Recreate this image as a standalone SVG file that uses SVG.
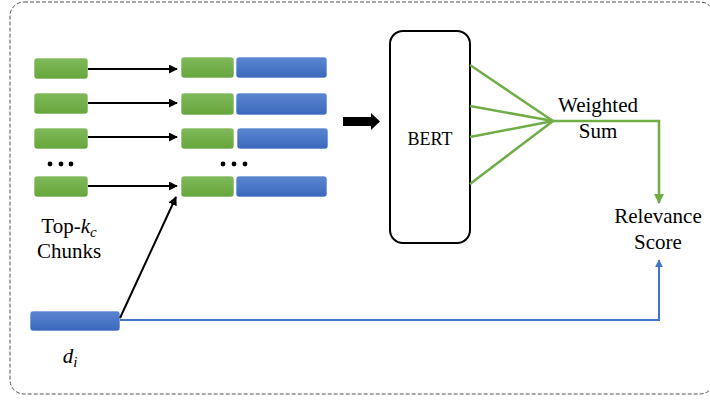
<svg xmlns="http://www.w3.org/2000/svg" width="710" height="401" viewBox="0 0 710 401">
<defs>
<linearGradient id="gg" x1="0" y1="0" x2="0" y2="1"><stop offset="0" stop-color="#80b95b"/><stop offset="1" stop-color="#66a63b"/></linearGradient>
<linearGradient id="bg" x1="0" y1="0" x2="0" y2="1"><stop offset="0" stop-color="#5a86d0"/><stop offset="1" stop-color="#3c68bd"/></linearGradient>
<marker id="ak" viewBox="0 0 10 10" refX="9" refY="5" markerWidth="4.5" markerHeight="4.5" orient="auto" markerUnits="strokeWidth"><path d="M0,0 L10,5 L0,10 z" fill="#000"/></marker>
<marker id="ag" viewBox="0 0 10 10" refX="9" refY="5" markerWidth="4" markerHeight="4" orient="auto" markerUnits="strokeWidth"><path d="M0,0 L10,5 L0,10 z" fill="#70ad47"/></marker>
<marker id="ab" viewBox="0 0 10 10" refX="9" refY="5" markerWidth="4" markerHeight="4" orient="auto" markerUnits="strokeWidth"><path d="M0,0 L10,5 L0,10 z" fill="#4472c4"/></marker>
</defs>
<style>
.g{fill:url(#gg);stroke:#ffffff;stroke-width:0.6}
.b{fill:url(#bg);stroke:#ffffff;stroke-width:0.6}
.t{font-family:"Liberation Serif","Times New Roman",serif;fill:#000;text-anchor:middle}
.ka{stroke:#000;stroke-width:2;fill:none;marker-end:url(#ak)}
.gl{stroke:#70ad47;stroke-width:2.5;fill:none}
.bl{stroke:#4472c4;stroke-width:2;fill:none}
</style>
<rect x="10" y="2" width="704" height="392" rx="14" fill="none" stroke="#555" stroke-width="1" stroke-dasharray="4,2"/>
<g id="chunks">
<rect class="g" x="34" y="58" width="54" height="21" rx="3"/>
<rect class="g" x="34" y="93" width="54" height="21" rx="3"/>
<rect class="g" x="34" y="128" width="54" height="21" rx="3"/>
<rect class="g" x="34" y="176" width="54" height="21" rx="3"/>
<circle cx="50" cy="164" r="2.4"/><circle cx="61" cy="164" r="2.4"/><circle cx="71" cy="164" r="2.4"/>
<text class="t" x="69" y="233" font-size="21">Top-<tspan font-style="italic">k</tspan><tspan font-style="italic" font-size="15" dy="4">c</tspan></text>
<text class="t" x="69" y="258" font-size="21">Chunks</text>
</g>
<g id="pairs">
<rect class="g" x="181" y="57" width="53" height="21" rx="3"/><rect class="b" x="236" y="57" width="91" height="21" rx="3"/>
<rect class="g" x="181" y="93" width="53" height="22" rx="3"/><rect class="b" x="236" y="93" width="91" height="22" rx="3"/>
<rect class="g" x="181" y="128" width="53" height="21" rx="3"/><rect class="b" x="237" y="128" width="91" height="21" rx="3"/>
<rect class="g" x="181" y="176" width="53" height="21" rx="3"/><rect class="b" x="236" y="176" width="91" height="21" rx="3"/>
<circle cx="223" cy="164" r="2.4"/><circle cx="234" cy="164" r="2.4"/><circle cx="245" cy="164" r="2.4"/>
</g>
<g id="doc">
<rect class="b" x="30" y="311" width="90" height="20" rx="3"/>
<text class="t" x="70" y="363" font-size="21"><tspan font-style="italic">d</tspan><tspan font-style="italic" font-size="15" dy="4">i</tspan></text>
</g>
<g id="bert">
<rect x="390" y="31" width="80" height="212" rx="13" fill="#fff" stroke="#000" stroke-width="2"/>
<text class="t" x="430" y="145" font-size="18">BERT</text>
</g>
<g id="weighted">
<text class="t" x="598" y="112" font-size="21">Weighted</text>
<text class="t" x="598" y="138" font-size="21">Sum</text>
</g>
<g id="score">
<text class="t" x="658" y="223" font-size="21">Relevance</text>
<text class="t" x="658" y="249" font-size="21">Score</text>
</g>
<g id="connectors">
<line class="ka" x1="88" y1="69" x2="177" y2="69"/>
<line class="ka" x1="88" y1="103" x2="177" y2="103"/>
<line class="ka" x1="88" y1="137" x2="177" y2="137"/>
<line class="ka" x1="88" y1="186" x2="177" y2="186"/>
<line class="ka" x1="120" y1="318" x2="176" y2="197"/>
<path d="M343,117 H371 V113 L380,121.5 L371,130 V126 H343 Z" fill="#000"/>
<line class="gl" x1="470" y1="65" x2="553" y2="121"/>
<line class="gl" x1="470" y1="106" x2="553" y2="121"/>
<line class="gl" x1="470" y1="137" x2="553" y2="121"/>
<line class="gl" x1="470" y1="184" x2="553" y2="121"/>
<path class="gl" d="M553,121 H659 V203" marker-end="url(#ag)"/>
<path class="bl" d="M120,320 H659 V260" marker-end="url(#ab)"/>
</g>
</svg>
